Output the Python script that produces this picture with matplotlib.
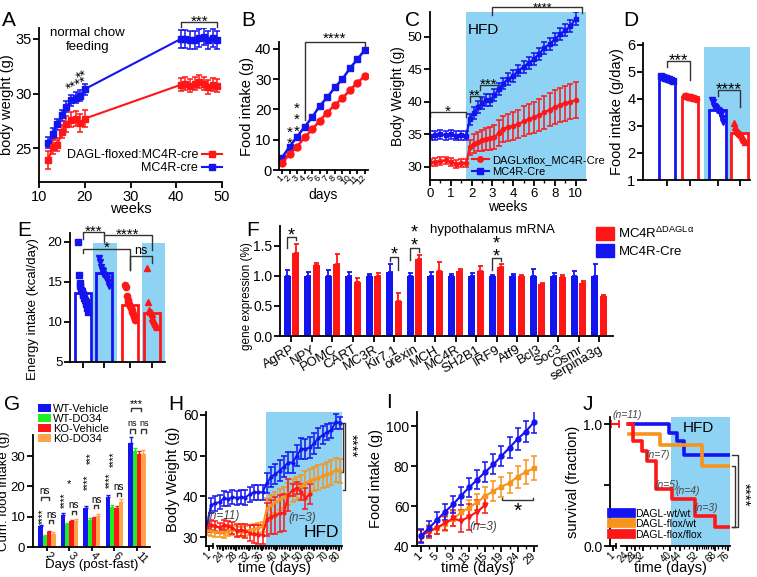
import numpy as np
import matplotlib
matplotlib.use('Agg')
import matplotlib.pyplot as plt
from matplotlib.lines import Line2D
from matplotlib.patches import Patch
from matplotlib.ticker import FixedLocator
from matplotlib.transforms import blended_transform_factory

plt.rcParams['font.family'] = ['Liberation Sans', 'DejaVu Sans']
plt.rcParams['mathtext.fontset'] = 'custom'
plt.rcParams['mathtext.rm'] = 'Liberation Sans'
plt.rcParams['mathtext.it'] = 'Liberation Sans:italic'
plt.rcParams['axes.linewidth'] = 1.3
plt.rcParams['xtick.major.width'] = 1.3
plt.rcParams['ytick.major.width'] = 1.3
plt.rcParams['xtick.major.size'] = 4
plt.rcParams['ytick.major.size'] = 4
plt.rcParams['xtick.major.pad'] = 1.5
plt.rcParams['ytick.major.pad'] = 1.5

BLUE = '#1414f0'
RED = '#ff1616'
ORANGE = '#f7941d'
GREEN = '#1fee1f'
GORANGE = '#ffa24a'
SHADE = '#8ed3f3'
GRAY = '#444444'
BR = '#333333'

# ---------------- data ----------------
# A: body weight, normal chow
a_weeks = [12, 13, 14, 15, 16, 17, 18, 19, 20, 41, 42, 43, 44, 45, 46, 47, 48, 49]
a_ctrl = [25.5, 26.3, 27.2, 28.0, 28.8, 29.4, 29.6, 29.8, 30.4, 35.0, 35.0, 34.9, 34.9, 35.1, 35.2, 34.9, 35.1, 34.9]
a_ctrl_err = [0.5, 0.5, 0.5, 0.5, 0.5, 0.5, 0.5, 0.5, 0.5, 0.8, 0.8, 0.8, 0.8, 0.8, 0.8, 0.8, 0.8, 0.8]
a_ko = [23.9, 25.1, 25.3, 26.5, 27.2, 27.6, 27.7, 27.3, 27.7, 30.8, 30.9, 30.7, 30.9, 31.1, 30.9, 30.6, 30.8, 30.7]
a_ko_err = [0.85, 0.6, 0.6, 0.6, 0.7, 0.7, 0.7, 0.8, 0.8, 0.6, 0.6, 0.6, 0.6, 0.6, 0.6, 0.6, 0.6, 0.6]

# B: cumulative food intake
b_days = [1, 2, 3, 4, 5, 6, 7, 8, 9, 10, 11, 12]
b_ctrl = [4.1, 7.7, 11.0, 14.3, 17.4, 21.2, 24.0, 27.3, 30.0, 33.6, 36.6, 39.8]
b_ko = [2.4, 5.2, 7.7, 10.8, 13.4, 16.3, 19.0, 21.5, 23.7, 26.4, 28.9, 31.1]

# C: body weight, HFD
c_weeks = [0, 0.25, 0.5, 0.75, 1.0, 1.25, 1.5, 1.75,
           1.9, 2.1, 2.3, 2.5, 2.7, 2.9, 3.1, 3.3, 3.5, 3.75, 4.0, 4.5, 5.0, 5.5, 6.0,
           6.5, 7.0, 7.5, 8.0, 8.5, 9.0, 9.5, 10.0]
c_ctrl = [34.8, 34.9, 35.0, 34.9, 35.0, 34.8, 34.9, 34.8,
          37.3, 38.3, 39.2, 39.8, 40.3, 40.3, 41.0, 42.0, 42.8, 43.5, 44.0, 44.8, 45.4, 46.0, 46.6,
          47.4, 48.3, 48.9, 49.6, 50.4, 51.0, 51.6, 52.8]
c_ctrl_err = [0.7, 0.7, 0.7, 0.7, 0.7, 0.7, 0.7, 0.7,
              0.9, 0.9, 0.9, 0.9, 0.9, 0.9, 0.9, 0.9, 0.9, 0.9, 0.9, 0.9, 0.9, 0.9, 0.9,
              0.9, 0.9, 0.9, 0.9, 0.9, 0.9, 0.9, 1.0]
c_ko = [30.7, 30.8, 30.9, 31.0, 30.8, 30.5, 30.6, 30.6,
        33.0, 33.6, 33.9, 34.1, 34.3, 34.4, 34.6, 35.2, 35.9, 36.1, 36.3, 36.6, 37.0, 37.3, 37.6,
        38.0, 38.4, 38.8, 39.2, 39.5, 39.8, 40.0, 40.3]
c_ko_err = [0.6, 0.6, 0.6, 0.6, 0.6, 0.6, 0.6, 0.6,
            1.2, 1.4, 1.5, 1.6, 1.7, 1.8, 1.9, 2.0, 2.0, 2.1, 2.2, 2.2, 2.3, 2.3, 2.4,
            2.4, 2.5, 2.5, 2.6, 2.6, 2.7, 2.7, 2.8]

# D: food intake (g/day)
d_means = [4.75, 4.07, 3.6, 2.73]
d_pts = [[4.85, 4.82, 4.79, 4.76, 4.74, 4.72, 4.69, 4.66],
         [4.12, 4.10, 4.09, 4.07, 4.06, 4.05, 4.03, 4.01],
         [3.95, 3.9, 3.75, 3.7, 3.65, 3.6, 3.58, 3.55, 3.5, 3.45, 3.3, 3.15],
         [3.1, 2.95, 2.85, 2.8, 2.76, 2.73, 2.7, 2.66, 2.6, 2.52, 2.47, 2.42]]

# E: energy intake (kcal/day)
e_means = [13.6, 16.1, 12.1, 11.1]
e_pts = [[20.0, 15.8, 14.8, 14.5, 14.0, 13.8, 13.5, 13.3, 13.0, 12.8, 12.5, 12.2, 11.8, 11.3],
         [18.0, 17.5, 16.8, 16.5, 16.3, 16.0, 15.8, 15.7, 15.5, 15.3, 15.0, 14.5],
         [14.6, 14.4, 13.2, 12.8, 12.5, 12.2, 12.0, 11.8, 11.5, 11.2, 11.0, 10.6, 10.2],
         [16.7, 12.5, 11.5, 11.3, 11.2, 11.0, 10.5, 10.2, 10.0, 9.8, 9.5, 9.4]]

# F: hypothalamus mRNA
f_genes = ['AgRP', 'NPY', 'POMC', 'CART', 'MC3R', 'Kir7.1', 'orexin', 'MCH', 'MC4R', 'SH2B1',
           'IRF9', 'Atf9', 'Bcl3', 'Soc3', 'Osmr', 'serpina3g']
f_ctrl = [1.0, 1.0, 1.0, 1.0, 1.0, 1.06, 1.0, 1.0, 1.0, 1.0, 1.0, 1.0, 1.0, 1.0, 1.0, 1.0]
f_ctrl_err = [0.09, 0.07, 0.09, 0.06, 0.03, 0.14, 0.04, 0.07, 0.03, 0.05, 0.02, 0.03, 0.12, 0.04, 0.08, 0.2]
f_ko = [1.38, 1.18, 1.2, 0.9, 1.0, 0.58, 1.28, 1.08, 1.08, 1.08, 1.15, 1.0, 0.87, 0.98, 0.88, 0.66]
f_ko_err = [0.15, 0.04, 0.17, 0.06, 0.04, 0.14, 0.06, 0.15, 0.04, 0.08, 0.04, 0.02, 0.02, 0.04, 0.03, 0.03]

# G: cumulative food intake after fast
g_days = ['2', '3', '4', '6', '11']
g_wt_veh = [6.8, 10.7, 13.0, 16.4, 34.3]
g_wt_do = [3.7, 7.6, 9.0, 13.3, 31.8]
g_ko_veh = [4.8, 8.5, 9.5, 13.0, 30.6]
g_ko_do = [4.4, 8.6, 10.1, 14.9, 30.7]
g_wt_veh_err = [0.5, 0.5, 0.6, 0.8, 2.0]
g_wt_do_err = [0.3, 0.4, 0.5, 0.5, 1.0]
g_ko_veh_err = [0.5, 0.4, 0.4, 0.4, 1.0]
g_ko_do_err = [0.6, 0.6, 0.7, 0.9, 1.3]

# H: body weight over time
h_ticklabels = ['1', '24', '28', '32', '36', '40', '44', '50', '60', '70', '80']
h_wt = [32.3, 37.8, 38.3, 38.6, 39.5, 39.3, 39.8, 39.6, 39.8, 39.7, 40.5, 41.0, 41.0, 41.0,
        43.2, 44.8, 45.5, 46.3, 47.3, 48.3, 48.3, 50.0, 51.7, 51.6, 52.0, 53.0, 54.3, 55.0,
        55.8, 56.2, 58.3, 58.0]
h_wt_err = [1.0, 1.8, 1.8, 1.8, 1.8, 1.8, 1.8, 1.8, 1.8, 1.8, 1.8, 1.8, 1.8, 1.8,
            2.5, 2.5, 2.5, 2.5, 2.5, 2.5, 2.5, 2.5, 2.5, 2.5, 2.5, 2.5, 2.5, 2.2,
            2.0, 1.8, 1.8, 1.5]
h_het = [31.8, 31.5, 31.2, 31.3, 31.0, 31.5, 31.8, 31.5, 31.2, 31.5, 31.8, 32.0, 32.3, 32.5,
         37.0, 37.8, 38.5, 39.3, 39.8, 40.5, 41.5, 42.0, 42.5, 43.3, 43.8, 44.2, 44.6, 45.0,
         45.4, 45.8, 46.4, 46.2]
h_het_err = [1.2, 1.2, 1.2, 1.2, 1.2, 1.2, 1.2, 1.2, 1.2, 1.2, 1.2, 1.2, 1.2, 1.2,
             2.5, 2.5, 2.5, 2.6, 2.6, 2.7, 2.8, 2.8, 2.8, 2.9, 3.0, 3.0, 3.0, 3.0,
             3.0, 3.0, 3.0, 3.0]
h_ko = [32.5, 33.0, 32.8, 32.3, 33.0, 32.8, 32.2, 31.6, 31.8, 31.5, 31.0, 30.7, 30.6, 30.6,
        34.3, 35.0, 35.3, 35.8, 36.0, 40.3, 41.5, 42.0, 41.0, 39.5, 40.5]
h_ko_err = [1.2, 1.2, 1.2, 1.2, 1.2, 1.2, 1.5, 1.5, 1.5, 1.8, 2.0, 2.2, 2.3, 2.3,
            4.0, 4.2, 4.5, 4.5, 4.5, 4.0, 1.5, 1.5, 2.0, 2.5, 2.5]

# I: cumulative food intake
i_ticklabels = ['1', '5', '9', '13', '15', '19', '24', '29']
i_wt = [45.0, 48.8, 53.0, 57.0, 60.8, 65.2, 69.3, 73.2, 77.0, 80.8, 85.0, 89.2, 93.5, 97.2, 101.8]
i_wt_err = [3.5, 3.8, 4.0, 4.2, 4.3, 4.5, 4.6, 4.8, 5.0, 5.0, 5.2, 5.2, 5.4, 5.4, 5.5]
i_het = [45.0, 47.5, 49.2, 51.0, 53.5, 56.8, 59.2, 62.0, 65.0, 67.5, 69.7, 71.5, 74.7, 77.0, 78.8]
i_het_err = [3.0, 3.0, 3.2, 3.4, 3.6, 3.8, 4.0, 4.2, 4.5, 4.8, 5.0, 5.2, 5.5, 5.8, 6.0]
i_ko = [45.0, 47.2, 49.0, 51.5, 53.8, 52.5, 54.7, 57.2, 60.5]
i_ko_err = [3.0, 3.0, 3.2, 3.5, 4.0, 5.5, 6.5, 6.0, 4.0]

# J: survival
j_tick_days = [1, 24, 28, 32, 40, 44, 52, 68, 76]
j_wt_t = [25.5, 39.8, 42.7, 46.0]
j_wt_s = [1.0, 0.93, 0.86, 0.75]
j_het_t = [25.0, 37.0, 56.7]
j_het_s = [0.92, 0.83, 0.66]
j_ko_t = [24.5, 26.9, 31.3, 33.1, 35.9, 40.7, 51.1, 68.0]
j_ko_s = [1.0, 0.86, 0.78, 0.70, 0.47, 0.39, 0.25, 0.157]
j_end = 77.4

# ---------------- helpers ----------------
W, H = 757, 577
fig = plt.figure(figsize=(W / 100, H / 100), dpi=100)


def add_ax(l, t, r, b):
    ax = fig.add_axes([l / W, 1 - b / H, (r - l) / W, (b - t) / H])
    ax.spines['top'].set_visible(False)
    ax.spines['right'].set_visible(False)
    return ax


def bracket(ax, x1, x2, y, y1, y2, text=None, fs=10, ty=None, va='center', lw=1.0):
    ax.plot([x1, x1, x2, x2], [y1, y, y, y2], color=BR, lw=lw, clip_on=False)
    if text:
        ax.text((x1 + x2) / 2, y if ty is None else ty, text, ha='center', va=va,
                fontsize=fs, clip_on=False)


def plabel(t, x, y):
    fig.text(x / W, 1 - y / H, t, fontsize=15, ha='center', va='center')


def rot_labels(ax, labels, fs, rot=45):
    ax.set_xticklabels(labels, rotation=rot, ha='right' if rot > 0 else 'left', va='center',
                       rotation_mode='anchor', fontsize=fs)


ebkw = dict(capsize=2.2, elinewidth=1.1, capthick=1.1)

# ---------------- A ----------------
ax = add_ax(39, 28, 222, 182)
ax.errorbar(a_weeks, a_ctrl, yerr=a_ctrl_err, color=BLUE, marker='s', ms=4, lw=1.5, **ebkw)
ax.errorbar(a_weeks, a_ko, yerr=a_ko_err, color=RED, marker='s', ms=4, lw=1.5, **ebkw)
ax.set_xlim(10, 50)
ax.set_ylim(21.9, 36)
ax.set_xticks([10, 20, 30, 40, 50])
ax.set_yticks([25, 30, 35])
ax.tick_params(labelsize=10.5)
ax.set_xlabel('weeks', fontsize=10.5, labelpad=-1)
ax.set_ylabel('body weight (g)', fontsize=10.5, labelpad=1)
ax.text(20.6, 34.9, 'normal chow\nfeeding', ha='center', va='center', fontsize=9.5, linespacing=1.15)
bracket(ax, 41, 49, 36.55, 36.1, 36.1, '***', fs=11, ty=36.6)
ax.text(19.3, 31.6, '**', fontsize=10, rotation=25, ha='center', va='center')
ax.text(18.3, 30.8, '****', fontsize=10, rotation=25, ha='center', va='center')
hA = [Line2D([], [], color=RED, marker='s', ms=4, lw=1.5), Line2D([], [], color=BLUE, marker='s', ms=4, lw=1.5)]
ax.legend(hA, ['DAGL-floxed:MC4R-cre', 'MC4R-cre'], loc='lower right', bbox_to_anchor=(1.0, 0.05),
          markerfirst=False, frameon=False, fontsize=9, handlelength=1.6, handletextpad=0.3,
          labelspacing=0.1, borderpad=0, borderaxespad=0)
plabel('A', 9, 20)

# ---------------- B ----------------
ax = add_ax(279, 42, 368, 170)
ax.plot(b_days, b_ctrl, color=BLUE, marker='s', ms=5, lw=1.8)
ax.plot(b_days, b_ko, color=RED, marker='o', ms=5, lw=1.8)
ax.set_xlim(0.6, 12.4)
ax.set_ylim(0, 42.3)
ax.set_yticks([0, 10, 20, 30, 40])
ax.set_xticks(b_days)
rot_labels(ax, [str(d) for d in b_days], 6.5)
ax.tick_params(axis='y', labelsize=10.5)
ax.tick_params(axis='x', length=3)
ax.set_xlabel('days', fontsize=10, labelpad=1)
ax.set_ylabel('Food intake (g)', fontsize=10.5, labelpad=1)
bracket(ax, 4, 12, 42.2, 16.5, 40.8, '****', fs=11, ty=43.2)
ax.text(2, 10.5, '*\n*', fontsize=11, ha='center', va='center', linespacing=0.75)
ax.text(3, 16.5, '*\n*\n*', fontsize=11, ha='center', va='center', linespacing=0.75)
plabel('B', 248, 20)

# ---------------- C ----------------


def c_fwd(w):
    w = np.asarray(w, dtype=float)
    return np.where(w <= 4, w, 4 + (w - 4) / 2)


def c_inv(p):
    p = np.asarray(p, dtype=float)
    return np.where(p <= 4, p, 4 + (p - 4) * 2)


ax = add_ax(430, 12, 586, 180)
ax.set_xscale('function', functions=(c_fwd, c_inv))
ax.axvspan(1.735, 11.0, color=SHADE, lw=0, zorder=0)
ax.errorbar(c_weeks, c_ctrl, yerr=c_ctrl_err, color=BLUE, marker='s', ms=3, lw=1.5, **ebkw)
ax.errorbar(c_weeks, c_ko, yerr=c_ko_err, color=RED, marker='o', ms=3, lw=1.5, **ebkw)
ax.set_xlim(0, 11.0)
ax.set_ylim(28, 53.8)
ax.set_xticks([0, 1, 2, 3, 4, 6, 8, 10])
ax.set_xticklabels(['0', '1', '2', '3', '4', '6', '8', '10'])
ax.xaxis.set_minor_locator(FixedLocator([0.5, 1.5, 2.5, 3.5, 5, 7, 9]))
ax.tick_params(axis='x', which='minor', length=2.5, width=1)
ax.set_yticks([30, 35, 40, 45, 50])
ax.tick_params(labelsize=9.5)
ax.set_xlabel('weeks', fontsize=10, labelpad=0)
ax.set_ylabel('Body Weight (g)', fontsize=10, labelpad=2)
ax.text(2.55, 51.0, 'HFD', fontsize=11, ha='center', va='center')
bracket(ax, 0, 1.75, 38.5, 37.7, 37.7, '*', fs=11, ty=38.5)
bracket(ax, 1.93, 2.4, 40.9, 40.0, 40.0, '**', fs=11, ty=40.9)
bracket(ax, 2.4, 3.28, 42.6, 41.8, 41.8, '***', fs=11, ty=42.6)
bracket(ax, 2.99, 10.66, 54.5, 53.4, 53.7, '****', fs=9, ty=54.4)
hC = [Line2D([], [], color=RED, marker='o', ms=4, lw=1.5), Line2D([], [], color=BLUE, marker='s', ms=4, lw=1.5)]
ax.legend(hC, ['DAGLxflox_MC4R-Cre', 'MC4R-Cre'], loc='lower left', bbox_to_anchor=(0.27, 0.02),
          frameon=False, fontsize=8, handlelength=1.5, handletextpad=0.3, labelspacing=0.15,
          borderpad=0, borderaxespad=0)
plabel('C', 412, 20)

# ---------------- D ----------------
ax = add_ax(643, 43, 750, 180)
d_pos = [0, 1, 2.2, 3.15]
d_cols = [BLUE, RED, BLUE, RED]
d_mk = ['s', 'o', 'v', '^']
ax.axvspan(1.6, 3.6, ymin=0, ymax=0.972, color=SHADE, lw=0, zorder=0)
for i in range(4):
    ax.bar(d_pos[i], d_means[i], width=0.72, facecolor='white', edgecolor=d_cols[i], lw=2, zorder=2)
    n = len(d_pts[i])
    xs = d_pos[i] + np.linspace(-0.24, 0.24, n)
    ax.plot(xs, d_pts[i], linestyle='none', marker=d_mk[i], ms=4.5, color=d_cols[i], zorder=3)
ax.set_xlim(-1.04, 3.6)
ax.set_ylim(1, 6.07)
ax.set_yticks([1, 2, 3, 4, 5, 6])
ax.set_xticks(d_pos)
ax.set_xticklabels([])
ax.tick_params(labelsize=10.5)
ax.set_ylabel('Food intake (g/day)', fontsize=10.5, labelpad=2)
bracket(ax, 0, 1, 5.4, 5.2, 4.7, '***', fs=12, ty=5.42)
bracket(ax, 2.2, 3.15, 4.33, 4.1, 3.7, '****', fs=12, ty=4.35)
plabel('D', 631, 21)

# ---------------- E ----------------
ax = add_ax(70, 233, 165, 362)
e_pos = [0, 0.95, 2.14, 3.14]
e_cols = [BLUE, BLUE, RED, RED]
e_mk = ['s', 'v', 'o', '^']
ax.axvspan(0.45, 1.55, ymin=0, ymax=0.92, color=SHADE, lw=0, zorder=0)
ax.axvspan(2.68, 3.73, ymin=0, ymax=0.92, color=SHADE, lw=0, zorder=0)
for i in range(4):
    ax.bar(e_pos[i], e_means[i], width=0.72, facecolor='none', edgecolor=e_cols[i], lw=2, zorder=2)
    n = len(e_pts[i])
    xs = e_pos[i] + np.linspace(-0.22, 0.22, n)
    ax.plot(xs, e_pts[i], linestyle='none', marker=e_mk[i], ms=4.5, color=e_cols[i], zorder=3)
ax.set_xlim(-0.59, 3.73)
ax.set_ylim(5, 21.1)
ax.set_yticks([5, 10, 15, 20])
ax.set_xticks(e_pos)
ax.set_xticklabels([])
ax.tick_params(labelsize=9.5)
ax.set_ylabel('Energy intake (kcal/day)', fontsize=9.5)
ax.yaxis.set_label_coords(-0.33, 0.41)
bracket(ax, 0, 0.95, 21.2, 20.3, 20.0, '***', fs=11, ty=21.25)
bracket(ax, 0.95, 3.14, 20.8, 20.8, 19.0, '****', fs=11, ty=20.85)
bracket(ax, 0, 2.14, 19.1, 18.6, 16.5, '*', fs=11, ty=19.2)
bracket(ax, 2.14, 3.14, 18.2, 16.5, 17.3, 'ns', fs=9, ty=18.15, va='bottom')
plabel('E', 24, 230)

# ---------------- F ----------------
ax = add_ax(280, 226, 613, 336)
xf = np.arange(len(f_genes))
nf = len(f_genes)
ax.bar(xf - 0.21, f_ctrl, width=0.34, color=BLUE, zorder=2)
ax.bar(xf + 0.21, f_ko, width=0.34, color=RED, zorder=2)
ax.errorbar(xf - 0.21, f_ctrl, yerr=[np.zeros(nf), f_ctrl_err], fmt='none', ecolor=BLUE,
            capsize=1.8, elinewidth=1.3, capthick=1.3, zorder=1)
ax.errorbar(xf + 0.21, f_ko, yerr=[np.zeros(nf), f_ko_err], fmt='none', ecolor=RED,
            capsize=1.8, elinewidth=1.3, capthick=1.3, zorder=1)
ax.set_xlim(-0.56, 15.68)
ax.set_ylim(0, 1.83)
ax.set_yticks([0, 0.5, 1.0, 1.5])
ax.set_yticklabels(['0.0', '0.5', '1.0', '1.5'])
ax.set_xticks(xf)
ax.set_xticklabels(f_genes, rotation=30, ha='right', rotation_mode='anchor', fontsize=9.5)
ax.tick_params(axis='y', labelsize=10)
ax.set_ylabel('gene expression (%)', fontsize=8.5)
ax.yaxis.set_label_coords(-0.082, 0.36)
ax.text(9.8, 1.77, 'hypothalamus mRNA', fontsize=9.5, ha='center', va='center')
bracket(ax, -0.21, 0.21, 1.655, 1.46, 1.6, '*', fs=13, ty=1.67)
bracket(ax, 4.79, 5.21, 1.32, 1.24, 1.1, '*', fs=13, ty=1.34)
bracket(ax, 5.79, 6.21, 1.46, 1.27, 1.4)
ax.text(6.0, 1.6, '*\n*', fontsize=13, ha='center', va='center', linespacing=0.7)
bracket(ax, 9.79, 10.21, 1.3, 1.1, 1.24)
ax.text(10.0, 1.42, '*\n*', fontsize=13, ha='center', va='center', linespacing=0.7)
fig.legend([Patch(color=RED), Patch(color=BLUE)], [r'MC4R$^{\mathregular{ΔDAGLα}}$', 'MC4R-Cre'],
           loc='upper left', bbox_to_anchor=(596 / W, 1 - 226 / H), frameon=False, fontsize=9.5,
           handlelength=1.4, handleheight=1.1, handletextpad=0.3, labelspacing=0.25,
           borderpad=0, borderaxespad=0)
plabel('F', 253, 231)

# ---------------- G ----------------
ax = add_ax(33, 435, 150, 547)
xg = np.arange(len(g_days))
ng = len(g_days)
g_series = [(g_wt_veh, g_wt_veh_err, BLUE, 'WT-Vehicle'), (g_wt_do, g_wt_do_err, GREEN, 'WT-DO34'),
            (g_ko_veh, g_ko_veh_err, RED, 'KO-Vehicle'), (g_ko_do, g_ko_do_err, GORANGE, 'KO-DO34')]
g_offs = [-0.285, -0.095, 0.095, 0.285]
for k, (vals, errs, col, lab) in enumerate(g_series):
    ax.bar(xg + g_offs[k], vals, width=0.19, color=col, label=lab, zorder=2)
    ax.errorbar(xg + g_offs[k], vals, yerr=[np.zeros(ng), errs], fmt='none', ecolor=col,
                capsize=1.2, elinewidth=1, capthick=1, zorder=1)
ax.set_xlim(-0.62, 4.58)
ax.set_ylim(0, 37)
ax.set_yticks([0, 10, 20, 30])
ax.set_xticks(xg)
rot_labels(ax, g_days, 8, rot=-45)
ax.tick_params(axis='y', labelsize=9.5)
ax.tick_params(axis='x', length=3, pad=2)
ax.set_xlabel('Days (post-fast)', fontsize=9.5)
ax.xaxis.set_label_coords(0.5, -0.11)
ax.set_ylabel('Cum. food intake (g)', fontsize=9.5, labelpad=0)
ax.legend(loc='upper left', bbox_to_anchor=(0.04, 1.28), frameon=False, fontsize=8,
          handlelength=1.2, handleheight=0.75, handletextpad=0.2, labelspacing=0.0,
          borderpad=0, borderaxespad=0)
gfs = 7
# day 2
ax.text(-0.2, 10.0, '****', rotation=90, fontsize=gfs, ha='center', va='center')
bracket(ax, -0.285, 0.095, 16.5, 15.5, 15.5, 'ns', fs=gfs, ty=16.7, va='bottom')
bracket(ax, 0.095, 0.285, 8.8, 8.0, 8.0, 'ns', fs=gfs, ty=9.0, va='bottom')
# day 3
ax.text(0.8, 15.3, '****', rotation=90, fontsize=gfs, ha='center', va='center')
ax.text(0.96, 20.7, '*', fontsize=gfs + 1, ha='center', va='center')
bracket(ax, 1.095, 1.285, 12.0, 11.0, 11.0, 'ns', fs=gfs, ty=12.2, va='bottom')
# day 4
ax.text(1.8, 21.5, '****', rotation=90, fontsize=gfs, ha='center', va='center')
ax.text(1.97, 29.3, '***', rotation=90, fontsize=gfs, ha='center', va='center')
bracket(ax, 2.095, 2.285, 13.8, 12.8, 12.8, 'ns', fs=gfs, ty=14.0, va='bottom')
# day 6
ax.text(2.8, 22.0, '****', rotation=90, fontsize=gfs, ha='center', va='center')
ax.text(2.97, 29.0, '****', rotation=90, fontsize=gfs, ha='center', va='center')
bracket(ax, 3.095, 3.285, 18.0, 17.0, 17.0, 'ns', fs=gfs, ty=18.2, va='bottom')
# day 11
bracket(ax, 3.75, 4.2, 46.0, 45.0, 45.0, '***', fs=gfs + 1, ty=47.2)
bracket(ax, 3.7, 3.9, 39.0, 37.8, 37.8, 'ns', fs=6.5, ty=39.2, va='bottom')
bracket(ax, 4.2, 4.4, 39.0, 37.8, 37.8, 'ns', fs=6.5, ty=39.2, va='bottom')
plabel('G', 12, 404)

# ---------------- H ----------------
ax = add_ax(206, 412, 342, 546)
ax.axvspan(13.8, 31.5, color=SHADE, lw=0, zorder=0)
ax.errorbar(np.arange(len(h_wt)), h_wt, yerr=h_wt_err, color=BLUE, marker='o', ms=2, lw=1.4, **ebkw)
ax.errorbar(np.arange(len(h_het)), h_het, yerr=h_het_err, color=ORANGE, marker='o', ms=2, lw=1.4, **ebkw)
ax.errorbar(np.arange(len(h_ko)), h_ko, yerr=h_ko_err, color=RED, marker='o', ms=2, lw=1.4, **ebkw)
ax.set_xlim(-0.15, 31.5)
ax.set_ylim(27.8, 60.7)
ax.set_yticks([30, 40, 50, 60])
ax.set_xticks([0.5, 3.8, 6.8, 9.8, 12.9, 16.1, 19.4, 22.2, 24.9, 27.9, 30.9])
rot_labels(ax, h_ticklabels, 7)
ax.xaxis.set_minor_locator(FixedLocator(np.arange(2.4, 31.5, 0.37)))
ax.tick_params(axis='x', which='minor', length=2.5, width=0.9)
ax.tick_params(axis='x', which='major', length=3.5, pad=2)
ax.tick_params(axis='y', labelsize=10)
ax.spines['bottom'].set_bounds(2.3, 31.5)
ax.plot([-0.15, 1.5], [27.8, 27.8], color='black', lw=1.3, clip_on=False)
ax.plot([1.5], [27.8], marker='|', ms=5, mew=1.2, color='black', clip_on=False)
ax.set_xlabel('time (days)', fontsize=10.5)
ax.xaxis.set_label_coords(0.5, -0.115)
ax.set_ylabel('Body Weight (g)', fontsize=10.5, labelpad=2)
ax.text(26.7, 31.0, 'HFD', fontsize=12.5, ha='center', va='center')
ax.text(3.8, 35.1, '(n=11)', fontsize=8.5, style='italic', color=GRAY, ha='center', va='center')
ax.text(22.2, 34.7, '(n=3)', fontsize=8.5, style='italic', color=GRAY, ha='center', va='center')
ax.plot([31.0, 31.7, 31.7, 31.0], [58.0, 58.0, 46.0, 46.0], color=BR, lw=1, clip_on=False)
ax.plot([31.7, 32.3, 32.3, 31.7], [58.0, 58.0, 41.5, 41.5], color=BR, lw=1, clip_on=False)
ax.text(33.5, 52.3, '****', rotation=-90, fontsize=11, ha='center', va='center')
plabel('H', 176, 404)

# ---------------- I ----------------
ax = add_ax(417, 412, 537, 546)
ax.errorbar(np.arange(len(i_het)), i_het, yerr=i_het_err, color=ORANGE, marker='s', ms=3.5, lw=1.5, **ebkw)
ax.errorbar(np.arange(len(i_ko)), i_ko, yerr=i_ko_err, color=RED, marker='v', ms=3.5, lw=1.5, **ebkw)
ax.errorbar(np.arange(len(i_wt)), i_wt, yerr=i_wt_err, color=BLUE, marker='o', ms=3.5, lw=1.5, **ebkw)
ax.set_xlim(-0.46, 14.4)
ax.set_ylim(40, 107)
ax.set_yticks([40, 60, 80, 100])
ax.set_xticks(np.arange(0, 15, 2))
rot_labels(ax, i_ticklabels, 8)
ax.xaxis.set_minor_locator(FixedLocator(np.arange(1, 15, 2)))
ax.tick_params(axis='x', which='minor', length=2.5, width=1)
ax.tick_params(axis='x', which='major', pad=2)
ax.tick_params(axis='y', labelsize=10)
ax.set_xlabel('time (days)', fontsize=10.5)
ax.xaxis.set_label_coords(0.5, -0.115)
ax.set_ylabel('Food intake (g)', fontsize=10.5, labelpad=2)
ax.plot([10.06, 10.06, 13.9, 13.9], [64.0, 63.0, 63.0, 64.0], color=BR, lw=1)
ax.text(12.0, 57.5, '*', fontsize=15, ha='center', va='center')
ax.text(7.7, 49.5, '(n=3)', fontsize=8.5, style='italic', color=GRAY, ha='center', va='center')
plabel('I', 389, 403)

# ---------------- J ----------------
j_map_days = [0, 1, 24, 28, 32, 40, 44, 52, 68, 76, 100]
j_map_pos = [0, 3, 17, 25, 33, 60, 70, 87, 105, 118, 152]


def j_fwd(d):
    return np.interp(np.asarray(d, dtype=float), j_map_days, j_map_pos)


def j_inv(p):
    return np.interp(np.asarray(p, dtype=float), j_map_pos, j_map_days)


ax = add_ax(610, 417, 730, 546)
ax.set_xscale('function', functions=(j_fwd, j_inv))
ax.axvspan(40.4, j_end, color=SHADE, lw=0, zorder=0)
ax.step(j_wt_t + [j_end], j_wt_s + [j_wt_s[-1]], where='post', color=BLUE, lw=2.6, label='DAGL-wt/wt')
ax.step(j_het_t + [j_end], j_het_s + [j_het_s[-1]], where='post', color=ORANGE, lw=2.6, label='DAGL-flox/wt')
ax.step(j_ko_t + [j_end], j_ko_s + [j_ko_s[-1]], where='post', color=RED, lw=2.6, label='DAGL-flox/flox')
ax.plot([0.4, 10.5], [1.0, 1.0], color=RED, lw=1.5, marker='|', ms=6, mew=1.3, clip_on=False)
ax.set_xlim(0, j_end)
ax.set_ylim(0, 1.06)
ax.set_yticks([0, 0.5, 1.0])
ax.set_yticklabels(['0.0', '', '1.0'])
ax.set_xticks(j_tick_days)
rot_labels(ax, [str(d) for d in j_tick_days], 7)
ax.xaxis.set_minor_locator(FixedLocator(np.arange(26, 76, 2)))
ax.tick_params(axis='x', which='minor', length=2.5, width=0.9)
ax.tick_params(axis='x', which='major', length=3.5, pad=2)
ax.tick_params(axis='y', labelsize=10)
ax.spines['bottom'].set_bounds(14, j_end)
ax.plot([0, 6], [0, 0], color='black', lw=1.3, clip_on=False)
ax.plot([6], [0], marker='|', ms=5, mew=1.2, color='black', clip_on=False)
ax.set_xlabel('time (days)', fontsize=10.5)
ax.xaxis.set_label_coords(0.5, -0.115)
ax.set_ylabel('survival (fraction)', fontsize=10.5, labelpad=2)
ax.text(53.4, 0.97, 'HFD', fontsize=11, ha='center', va='center')
for (xd, yv, s) in [(24.0, 1.075, '(n=11)'), (36.4, 0.75, '(n=7)'), (39.1, 0.5, '(n=5)'),
                    (47.8, 0.45, '(n=4)'), (60.0, 0.31, '(n=3)')]:
    ax.text(xd, yv, s, fontsize=7.5, style='italic', color=GRAY, ha='center', va='center')
tr = blended_transform_factory(ax.transAxes, ax.transData)
ax.plot([1.02, 1.065, 1.065, 1.02], [0.75, 0.75, 0.157, 0.157], transform=tr, color=BR, lw=1, clip_on=False)
ax.plot([1.02, 1.045, 1.045, 1.02], [0.66, 0.66, 0.157, 0.157], transform=tr, color=BR, lw=1, clip_on=False)
ax.text(1.12, 0.42, '****', transform=tr, rotation=-90, fontsize=11, ha='center', va='center')
ax.legend(loc='lower left', bbox_to_anchor=(0.02, 0.05), frameon=False, fontsize=7.5,
          handlelength=1.8, handletextpad=0.4, labelspacing=0.05, borderpad=0, borderaxespad=0)
for lh in ax.get_legend().get_lines():
    lh.set_linewidth(7)
plabel('J', 588, 405)

fig.savefig('out.png', dpi=100, facecolor='white')
